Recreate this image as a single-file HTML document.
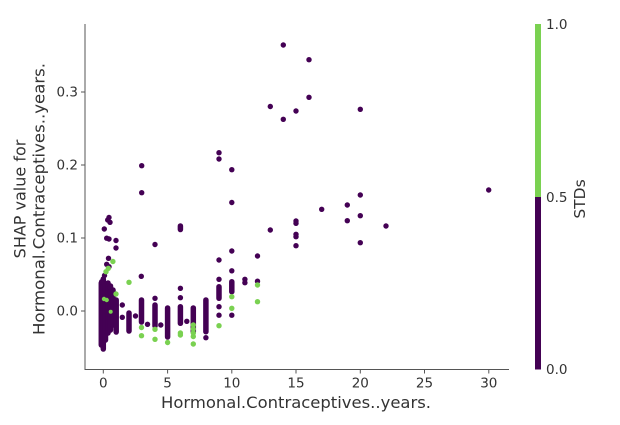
<!DOCTYPE html>
<html><head><meta charset="utf-8"><style>
html,body{margin:0;padding:0;background:#fff;}
svg{display:block;font-family:"DejaVu Sans","Liberation Sans",sans-serif;}
</style></head><body>
<svg width="620" height="425" viewBox="0 0 620 425" xmlns="http://www.w3.org/2000/svg">
<rect width="620" height="425" fill="#fff"/>
<!-- spines -->
<line x1="85" y1="24" x2="85" y2="369.5" stroke="#555" stroke-width="1"/>
<line x1="84.5" y1="369.5" x2="509" y2="369.5" stroke="#555" stroke-width="1"/>
<!-- y ticks -->
<g stroke="#555" stroke-width="1">
<line x1="81" y1="311" x2="85" y2="311"/>
<line x1="81" y1="238" x2="85" y2="238"/>
<line x1="81" y1="165" x2="85" y2="165"/>
<line x1="81" y1="92" x2="85" y2="92"/>
</g>
<g font-size="13.5" fill="#333" text-anchor="end">
<text x="78" y="315.7">0.0</text>
<text x="78" y="242.7">0.1</text>
<text x="78" y="169.7">0.2</text>
<text x="78" y="96.7">0.3</text>
</g>
<!-- x ticks -->
<g stroke="#555" stroke-width="1">
<line x1="103.3" y1="369" x2="103.3" y2="373.5"/>
<line x1="167.6" y1="369" x2="167.6" y2="373.5"/>
<line x1="231.8" y1="369" x2="231.8" y2="373.5"/>
<line x1="296" y1="369" x2="296" y2="373.5"/>
<line x1="360.3" y1="369" x2="360.3" y2="373.5"/>
<line x1="424.5" y1="369" x2="424.5" y2="373.5"/>
<line x1="488.8" y1="369" x2="488.8" y2="373.5"/>
</g>
<g font-size="13.5" fill="#333" text-anchor="middle">
<text x="103.3" y="387.5">0</text>
<text x="167.6" y="387.5">5</text>
<text x="231.8" y="387.5">10</text>
<text x="296" y="387.5">15</text>
<text x="360.3" y="387.5">20</text>
<text x="424.5" y="387.5">25</text>
<text x="488.8" y="387.5">30</text>
</g>
<!-- axis labels -->
<text x="296" y="408" font-size="16" fill="#333" text-anchor="middle" textLength="270" lengthAdjust="spacingAndGlyphs">Hormonal.Contraceptives..years.</text>
<text transform="translate(25.5,199) rotate(-90)" font-size="16" fill="#333" text-anchor="middle">SHAP value for</text>
<text transform="translate(44.5,199) rotate(-90)" font-size="16" fill="#333" text-anchor="middle" textLength="272" lengthAdjust="spacingAndGlyphs">Hormonal.Contraceptives..years.</text>

<!-- dense purple columns -->
<g stroke="#440154" stroke-width="5.5" stroke-linecap="round" fill="none">
<line x1="101.3" y1="283" x2="101.3" y2="345"/>
<line x1="103.3" y1="279" x2="103.3" y2="349"/>
<line x1="105.5" y1="284" x2="105.5" y2="340"/>
<line x1="108" y1="283" x2="108" y2="333"/>
<line x1="110.5" y1="286" x2="110.5" y2="330"/>
<line x1="113" y1="290" x2="113" y2="325"/>
<line x1="116.2" y1="300" x2="116.2" y2="332"/>
<line x1="129" y1="313" x2="129" y2="331"/>
<line x1="141.5" y1="300" x2="141.5" y2="322"/>
<line x1="155" y1="305" x2="155" y2="326"/>
<line x1="167.6" y1="308" x2="167.6" y2="337"/>
<line x1="180.4" y1="306.7" x2="180.4" y2="323.3"/>
<line x1="193.3" y1="308" x2="193.3" y2="331.7"/>
<line x1="205.9" y1="300" x2="205.9" y2="331.7"/>
<line x1="219" y1="286.7" x2="219" y2="298.3"/>
<line x1="231.8" y1="281.7" x2="231.8" y2="291.7"/>
<line x1="180.4" y1="226" x2="180.4" y2="229.5"/>
</g>
<!-- purple singles -->
<g fill="#440154">
<circle cx="109" cy="217.5" r="2.7"/><circle cx="107.7" cy="220" r="2.7"/><circle cx="110" cy="222.3" r="2.7"/>
<circle cx="104.3" cy="229" r="2.7"/><circle cx="106.7" cy="238.2" r="2.7"/><circle cx="109" cy="239" r="2.7"/>
<circle cx="116" cy="240.5" r="2.7"/><circle cx="116" cy="248" r="2.7"/>
<circle cx="108.5" cy="258.3" r="2.7"/><circle cx="106.7" cy="264.3" r="2.7"/><circle cx="109" cy="266.7" r="2.7"/>
<circle cx="104.5" cy="275.5" r="2.7"/><circle cx="101.7" cy="281.7" r="2.7"/><circle cx="110" cy="287.3" r="2.7"/>
<circle cx="122.3" cy="305" r="2.7"/><circle cx="122.3" cy="317.3" r="2.7"/><circle cx="135.5" cy="316" r="2.7"/>
<circle cx="141.7" cy="165.7" r="2.7"/><circle cx="141.7" cy="192.7" r="2.7"/><circle cx="141.3" cy="276.3" r="2.7"/>
<circle cx="147.5" cy="324.3" r="2.7"/>
<circle cx="155" cy="244.5" r="2.7"/><circle cx="155" cy="298.3" r="2.7"/><circle cx="160.8" cy="325" r="2.7"/>
<circle cx="180.4" cy="288.3" r="2.7"/><circle cx="180.4" cy="297.7" r="2.7"/><circle cx="186.8" cy="321.3" r="2.7"/>
<circle cx="205.9" cy="337.7" r="2.7"/>
<circle cx="219" cy="152.7" r="2.7"/><circle cx="219" cy="159" r="2.7"/><circle cx="219" cy="260" r="2.7"/>
<circle cx="219" cy="279.3" r="2.7"/><circle cx="219" cy="306.7" r="2.7"/><circle cx="219" cy="315.2" r="2.7"/>
<circle cx="231.8" cy="169.7" r="2.7"/><circle cx="231.8" cy="202.5" r="2.7"/><circle cx="231.8" cy="251" r="2.7"/>
<circle cx="231.8" cy="270.8" r="2.7"/><circle cx="231.8" cy="315.2" r="2.7"/>
<circle cx="244.9" cy="279.3" r="2.7"/><circle cx="244.9" cy="282.7" r="2.7"/>
<circle cx="257.5" cy="256" r="2.7"/><circle cx="257.5" cy="281.2" r="2.7"/>
<circle cx="270.3" cy="106.5" r="2.7"/><circle cx="270.3" cy="230" r="2.7"/>
<circle cx="283.3" cy="45" r="2.7"/><circle cx="283.3" cy="119.3" r="2.7"/>
<circle cx="296" cy="111" r="2.7"/><circle cx="296" cy="221" r="2.7"/><circle cx="296" cy="223.3" r="2.7"/>
<circle cx="296" cy="234.3" r="2.7"/><circle cx="296" cy="236.7" r="2.7"/><circle cx="296" cy="245.7" r="2.7"/>
<circle cx="309" cy="59.7" r="2.7"/><circle cx="309" cy="97.3" r="2.7"/>
<circle cx="321.7" cy="209.3" r="2.7"/>
<circle cx="347.3" cy="205" r="2.7"/><circle cx="347.3" cy="220.7" r="2.7"/>
<circle cx="360.3" cy="109.3" r="2.7"/><circle cx="360.3" cy="195" r="2.7"/><circle cx="360.3" cy="215.7" r="2.7"/><circle cx="360.3" cy="242.7" r="2.7"/>
<circle cx="386" cy="226" r="2.7"/>
<circle cx="488.7" cy="190" r="2.7"/>
</g>
<!-- green points -->
<g fill="#7ad151">
<circle cx="106" cy="271.7" r="2.7"/><circle cx="108.3" cy="268.3" r="2.7"/><circle cx="112.9" cy="261.5" r="2.7"/>
<circle cx="116" cy="294" r="2.7"/><circle cx="129" cy="282.3" r="2.7"/><circle cx="104" cy="299" r="2.2"/>
<circle cx="106.7" cy="300" r="2.2"/><circle cx="110.7" cy="311.7" r="2"/>
<circle cx="141.5" cy="327.5" r="2.7"/><circle cx="141.5" cy="335.7" r="2.7"/>
<circle cx="155" cy="329.3" r="2.7"/><circle cx="155" cy="339.3" r="2.7"/>
<circle cx="167.6" cy="342.5" r="2.7"/>
<circle cx="180.4" cy="333" r="2.7"/><circle cx="180.4" cy="335" r="2.7"/>
<circle cx="193.3" cy="325" r="2.7"/><circle cx="193.3" cy="329" r="2.7"/><circle cx="193.3" cy="333" r="2.7"/>
<circle cx="193.3" cy="336.5" r="2.7"/><circle cx="193.3" cy="344" r="2.7"/>
<circle cx="219" cy="325.7" r="2.7"/>
<circle cx="231.8" cy="296.7" r="2.7"/><circle cx="231.8" cy="308.3" r="2.7"/>
<circle cx="257.5" cy="285" r="2.7"/><circle cx="257.5" cy="301.7" r="2.7"/>
</g>

<!-- colorbar -->
<rect x="535" y="24" width="6" height="173" fill="#7ad151"/>
<rect x="535" y="197" width="6" height="172.5" fill="#440154"/>
<g font-size="13.5" fill="#333">
<text x="546" y="29">1.0</text>
<text x="546" y="202">0.5</text>
<text x="546" y="374">0.0</text>
</g>
<text transform="translate(585,199) rotate(-90)" font-size="15.5" fill="#333" text-anchor="middle">STDs</text>
</svg>
</body></html>
